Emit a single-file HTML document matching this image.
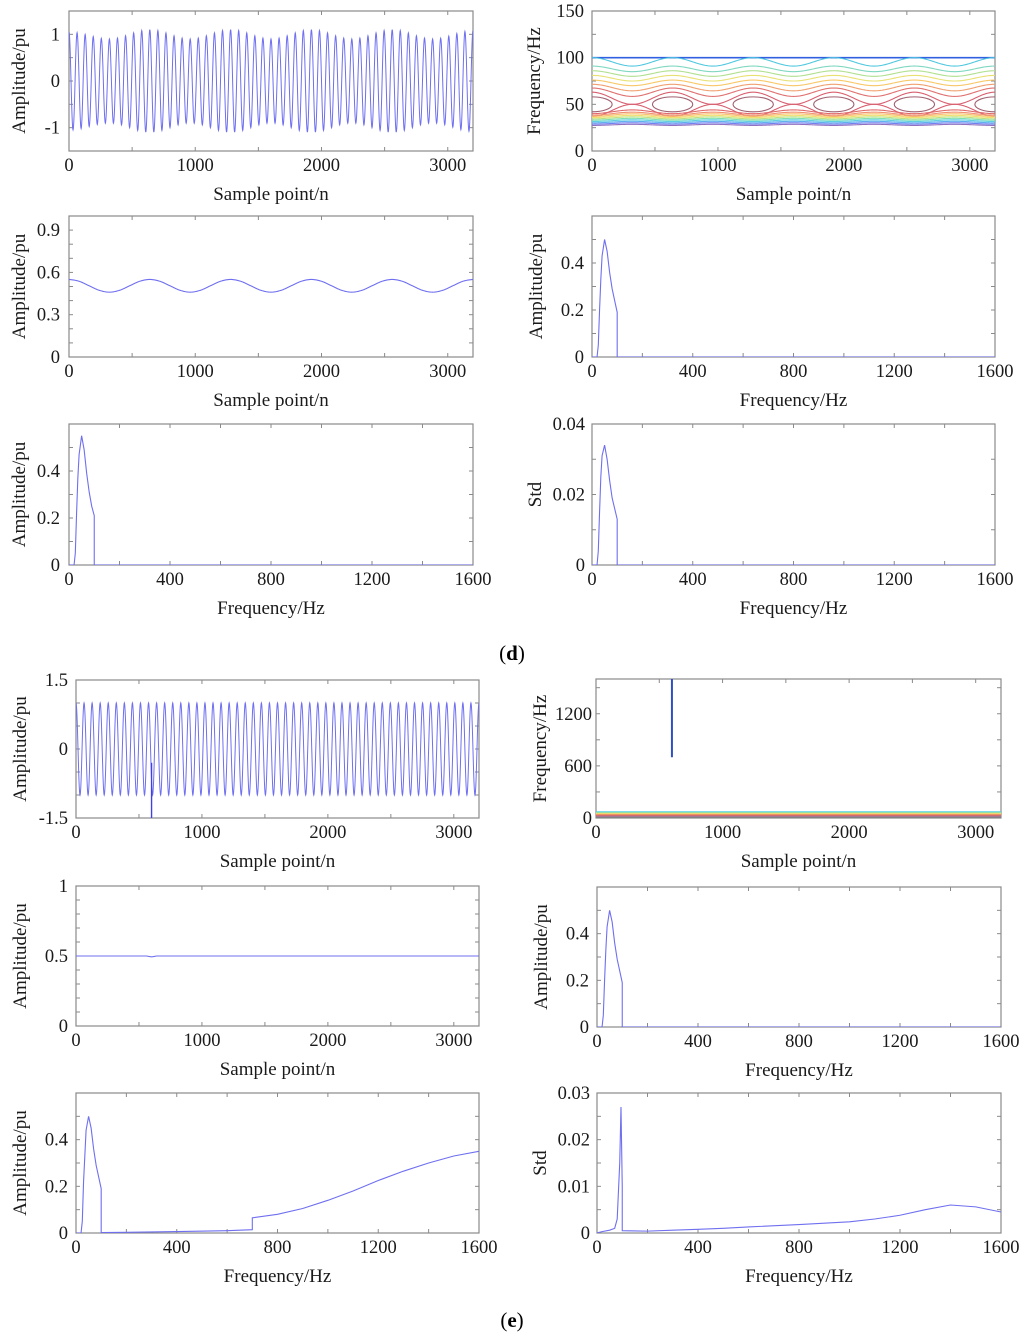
<!DOCTYPE html>
<html><head><meta charset="utf-8"><style>
html,body{margin:0;padding:0;background:#fff;}
svg{display:block;font-family:"Liberation Serif",serif;}
</style></head><body>
<svg id="fig" width="1024" height="1336" viewBox="0 0 1024 1336" xmlns="http://www.w3.org/2000/svg">
<text x="512" y="660" text-anchor="middle" font-size="21">(<tspan font-weight="bold">d</tspan>)</text>
<text x="512" y="1327" text-anchor="middle" font-size="21">(<tspan font-weight="bold">e</tspan>)</text>
</svg>
<script>
// ---------- data ----------
const d1EnvN=[0,320,640,960,1280,1600,1920,2240,2560,2880,3200];
const d1EnvA=[1.05,0.9,1.1,0.9,1.1,0.9,1.1,0.9,1.1,0.9,1.08];
const d1Cycles=[50];
const d2N=[0,80,160,240,320,400,480,560,640,720,800,880,960,1040,1120,1200,1280,1360,1440,1520,1600,1680,1760,1840,1920,2000,2080,2160,2240,2320,2400,2480,2560,2640,2720,2800,2880,2960,3040,3120,3200];
const d2V=[0.55,0.537,0.505,0.473,0.46,0.473,0.505,0.537,0.55,0.537,0.505,0.473,0.46,0.473,0.505,0.537,0.55,0.537,0.505,0.473,0.46,0.473,0.505,0.537,0.55,0.537,0.505,0.473,0.46,0.473,0.505,0.537,0.55,0.537,0.505,0.473,0.46,0.473,0.505,0.537,0.55];
const specF=[0,20,25,30,35,40,50,60,70,80,90,100,100,1600];
const dSpecA=[0,0,0.05,0.2,0.33,0.43,0.5,0.45,0.36,0.29,0.24,0.19,0,0];
const dSpecB=[0,0,0.05,0.22,0.37,0.47,0.55,0.49,0.39,0.31,0.25,0.21,0,0];
const dStd=[0,0,0.004,0.015,0.025,0.031,0.034,0.03,0.024,0.019,0.016,0.013,0,0];
const dUpC=[95.5,88,83,78,73,68,63];
const dUpA=[4.5,3,3,3,3,3.5,4.5];
const dLowC=[42,40,38.5,37,35.5,34,32.5,31,29.5,28];
const dLowA=[2,1.6,1.4,1.2,1.1,1,0.9,0.8,0.7,0.6];
const dEllN=[0,640,1280,1920,2560,3200];
const eSigCycles=[50];
const eSpikeN=[600];
const eSpikeV=[-0.3,-1.5];
const e2N=[0,560,590,600,610,640,3200];
const e2V=[0.5,0.5,0.495,0.494,0.495,0.5,0.5];
const eLines=[70,62,55,48,42,36,30,24,18,12,6];
const eVertN=[600];
const eVertF=[700,1600];
const eSpecA=[0,0,0.05,0.2,0.33,0.43,0.5,0.45,0.36,0.29,0.24,0.19,0,0];
const e3F=[0,20,25,30,40,50,60,70,80,90,100,100,200,400,600,700,700,800,900,1000,1100,1200,1300,1400,1500,1600];
const e3V=[0,0,0.05,0.22,0.44,0.5,0.45,0.36,0.29,0.24,0.19,0.002,0.003,0.006,0.01,0.014,0.065,0.08,0.105,0.14,0.18,0.225,0.265,0.3,0.33,0.35];
const e4F=[0,20,50,70,80,90,95,100,100,200,300,400,500,600,800,1000,1100,1200,1300,1400,1500,1600];
const e4V=[0,0.0003,0.0006,0.001,0.003,0.015,0.027,0.01,0.0005,0.0004,0.0006,0.0008,0.001,0.0013,0.0018,0.0024,0.003,0.0038,0.005,0.006,0.0056,0.0045];

// ---------- helpers ----------
const NS='http://www.w3.org/2000/svg';
const svg=document.getElementById('fig');
function el(tag,attrs,parent){const e=document.createElementNS(NS,tag);for(const k in attrs)e.setAttribute(k,attrs[k]);(parent||svg).appendChild(e);return e;}
function axes(name,L,T,R,B,xr,yr,xt,xm,yt,ym,ylab,xtitle,ytitle,titleOff,labOff){
  titleOff=titleOff||44; labOff=labOff||9;
  const g=el('g',{});
  
  
  const sx=v=>L+(v-xr[0])/(xr[1]-xr[0])*(R-L);
  const sy=v=>B-(v-yr[0])/(yr[1]-yr[0])*(B-T);
  const fr=el('rect',{x:L,y:T,width:R-L,height:B-T,fill:'none',stroke:'#8a8a8a','stroke-width':1.2},g);
  
  
  for(let v=xr[0];v<=xr[1]+1e-9;v+=xm){const x=sx(v);el('line',{x1:x,x2:x,y1:B,y2:B-4,stroke:'#8a8a8a'},g);el('line',{x1:x,x2:x,y1:T,y2:T+4,stroke:'#8a8a8a'},g);}
  for(let v=yr[0];v<=yr[1]+1e-9;v+=ym){const y=sy(v);el('line',{x1:L,x2:L+4,y1:y,y2:y,stroke:'#8a8a8a'},g);el('line',{x1:R,x2:R-4,y1:y,y2:y,stroke:'#8a8a8a'},g);}
  xt.forEach(v=>{const t=el('text',{x:sx(v),y:B+20,'text-anchor':'middle','font-size':18.5,fill:'#1a1a1a'},g);t.textContent=String(v);
    
    });
  yt.forEach((v,i)=>{const t=el('text',{x:L-labOff,y:sy(v)+6,'text-anchor':'end','font-size':18.5,fill:'#1a1a1a'},g);t.textContent=ylab[i];
    
    });
  const xtT=el('text',{x:(L+R)/2,y:B+49,'text-anchor':'middle','font-size':19,fill:'#1a1a1a'},g);xtT.textContent=xtitle;
  
  
  const cy=(T+B)/2,cx=L-titleOff;
  const ytT=el('text',{x:cx,y:cy,'text-anchor':'middle','font-size':19,fill:'#1a1a1a',transform:`rotate(-90 ${cx} ${cy})`},g);ytT.textContent=ytitle;
  
  
  const clipId='c'+name;const cp=el('clipPath',{id:clipId},g);el('rect',{x:L,y:T,width:R-L,height:B-T},cp);
  const pg=el('g',{'clip-path':`url(#${clipId})`},g);
  return {sx,sy,g:pg};
}
function line(ax,xs,ys,color,name,w){
  const d=xs.map((x,i)=>(i?'L':'M')+ax.sx(x).toFixed(2)+' '+ax.sy(ys[i]).toFixed(2)).join('');
  const p=el('path',{d,fill:'none',stroke:color||'#6f6ff0','stroke-width':w||1.1},ax.g);
  
  
  return p;
}
function interpCos(xs,ys,x){for(let i=0;i<xs.length-1;i++){if(x<=xs[i+1]){const t=(x-xs[i])/(xs[i+1]-xs[i]);const s=(1-Math.cos(Math.PI*t))/2;return ys[i]+(ys[i+1]-ys[i])*s;}}return ys[ys.length-1];}
function interpCR(xs,ys,x){const n=xs.length;for(let i=0;i<n-1;i++){if(x<=xs[i+1]){const t=(x-xs[i])/(xs[i+1]-xs[i]);
  const p0=ys[Math.max(0,i-1)],p1=ys[i],p2=ys[i+1],p3=ys[Math.min(n-1,i+2)];
  return 0.5*((2*p1)+(-p0+p2)*t+(2*p0-5*p1+4*p2-p3)*t*t+(-p0+3*p1-3*p2+p3)*t*t*t);}}return ys[n-1];}
const SPEC_X=[0,400,800,1200,1600];
const SAMP_X=[0,1000,2000,3000];
const upCol=['#50c8e0','#80d8c0','#b0e090','#e8e070','#f8c868','#f0a070','#e07070'];
const lowCol=['#e06868','#f09070','#f8c070','#f0e070','#c0e080','#80e0b0','#60d0e0','#60b0f0','#7080f0','#9070c0'];
const eCol=['#50d0e0','#70e0c0','#c0e080','#f0e070','#f8c060','#f09060','#e07060','#d06070','#c08080','#a070a0','#808080'];

// ---------- (d) row1 left ----------
{const a=axes('d-signal-plot',69,11,473,151,[0,3200],[-1.5,1.5],SAMP_X,500,[1,0,-1],0.5,['1','0','-1'],'Sample point/n','Amplitude/pu');
 const xs=[],ys=[];for(let n=0;n<=3200;n+=2){xs.push(n);ys.push(interpCos(d1EnvN,d1EnvA,n)*Math.cos(2*Math.PI*d1Cycles[0]*n/3200));}
 line(a,xs,ys,'#6f6ff0','signal-line',1);}
// ---------- (d) row1 right contour ----------
{const a=axes('d-contour-plot',592,11,995,151,[0,3200],[0,150],SAMP_X,500,[150,100,50,0],25,['150','100','50','0'],'Sample point/n','Frequency/Hz',52,8);
 line(a,[0,3200],[100,100],'#3060e0','contour-100',1.6);
 dUpC.forEach((c,i)=>{const xs=[],ys=[];for(let n=0;n<=3200;n+=10){xs.push(n);ys.push(Math.min(100,c+dUpA[i]*Math.cos(2*Math.PI*n/640)));}line(a,xs,ys,upCol[i],'contour-upper');});
 {const xs=[];for(let n=0;n<=3200;n+=10)xs.push(n);
  line(a,xs,xs.map(x=>63-13*Math.sin(Math.PI*x/640)**2),'#d86070','contour-cross');
  line(a,xs,xs.map(x=>37+13*Math.sin(Math.PI*x/640)**2),'#d86070','contour-cross');}
 dEllN.forEach(n=>{const e=el('ellipse',{cx:a.sx(n),cy:a.sy(50),rx:a.sx(160)-a.sx(0),ry:a.sy(42)-a.sy(50),fill:'none',stroke:'#a06070','stroke-width':1.1},a.g);
  
  });
 dLowC.forEach((c,i)=>{const xs=[],ys=[];for(let n=0;n<=3200;n+=10){xs.push(n);ys.push(c-dLowA[i]*Math.cos(2*Math.PI*n/640));}line(a,xs,ys,lowCol[i],'contour-lower');});}
// ---------- (d) row2 left ----------
{const a=axes('d-envelope-plot',69,216,473,357,[0,3200],[0,1],SAMP_X,500,[0.9,0.6,0.3,0],0.1,['0.9','0.6','0.3','0'],'Sample point/n','Amplitude/pu');
 const xs=[],ys=[];for(let n=0;n<=3200;n+=8){xs.push(n);ys.push(interpCR(d2N,d2V,n));}line(a,xs,ys,'#6f6ff0','envelope-line');}
// ---------- (d) row2 right ----------
{const a=axes('d-spectrum-plot',592,216,995,357,[0,1600],[0,0.6],SPEC_X,200,[0.4,0.2,0],0.1,['0.4','0.2','0'],'Frequency/Hz','Amplitude/pu',50,8);
 line(a,specF,dSpecA,'#6f6ff0','spectrum-line');}
// ---------- (d) row3 left ----------
{const a=axes('d-mean-spectrum-plot',69,424,473,565,[0,1600],[0,0.6],SPEC_X,200,[0.4,0.2,0],0.1,['0.4','0.2','0'],'Frequency/Hz','Amplitude/pu');
 line(a,specF,dSpecB,'#6f6ff0','spectrum-line');}
// ---------- (d) row3 right ----------
{const a=axes('d-std-plot',592,424,995,565,[0,1600],[0,0.04],SPEC_X,200,[0.04,0.02,0],0.01,['0.04','0.02','0'],'Frequency/Hz','Std',51,7);
 line(a,specF,dStd,'#6f6ff0','std-line');}
// ---------- (e) row1 left ----------
{const a=axes('e-signal-plot',76,680,479,818,[0,3200],[-1.5,1.5],SAMP_X,500,[1.5,0,-1.5],0.5,['1.5','0','-1.5'],'Sample point/n','Amplitude/pu',50,8);
 const xs=[],ys=[];for(let n=0;n<=3200;n+=2){xs.push(n);ys.push(Math.cos(2*Math.PI*eSigCycles[0]*n/3200));}
 line(a,xs,ys,'#6f6ff0','signal-line',1);
 line(a,[eSpikeN[0],eSpikeN[0]],eSpikeV,'#4040e0','spike-line',1.4);}
// ---------- (e) row1 right contour ----------
{const a=axes('e-contour-plot',596,679,1001,818,[0,3200],[0,1600],SAMP_X,500,[1200,600,0],300,['1200','600','0'],'Sample point/n','Frequency/Hz',50,4);
 eLines.forEach((f,i)=>line(a,[0,3200],[f,f],eCol[i],'contour-line',1.3));
 line(a,[eVertN[0],eVertN[0]],eVertF,'#3050c0','transient-contour',2);}
// ---------- (e) row2 left ----------
{const a=axes('e-envelope-plot',76,886,479,1026,[0,3200],[0,1],SAMP_X,500,[1,0.5,0],0.1,['1','0.5','0'],'Sample point/n','Amplitude/pu',50,8);
 line(a,e2N,e2V,'#6f6ff0','envelope-line');}
// ---------- (e) row2 right ----------
{const a=axes('e-spectrum-plot',597,887,1001,1027,[0,1600],[0,0.6],SPEC_X,200,[0.4,0.2,0],0.1,['0.4','0.2','0'],'Frequency/Hz','Amplitude/pu',50,8);
 line(a,specF,eSpecA,'#6f6ff0','spectrum-line');}
// ---------- (e) row3 left ----------
{const a=axes('e-mean-spectrum-plot',76,1093,479,1233,[0,1600],[0,0.6],SPEC_X,200,[0.4,0.2,0],0.1,['0.4','0.2','0'],'Frequency/Hz','Amplitude/pu',50,8);
 line(a,e3F,e3V,'#6f6ff0','spectrum-line');}
// ---------- (e) row3 right ----------
{const a=axes('e-std-plot',597,1093,1001,1233,[0,1600],[0,0.03],SPEC_X,200,[0.03,0.02,0.01,0],0.005,['0.03','0.02','0.01','0'],'Frequency/Hz','Std',51,7);
 line(a,e4F,e4V,'#6f6ff0','std-line');}
</script>
</body></html>
